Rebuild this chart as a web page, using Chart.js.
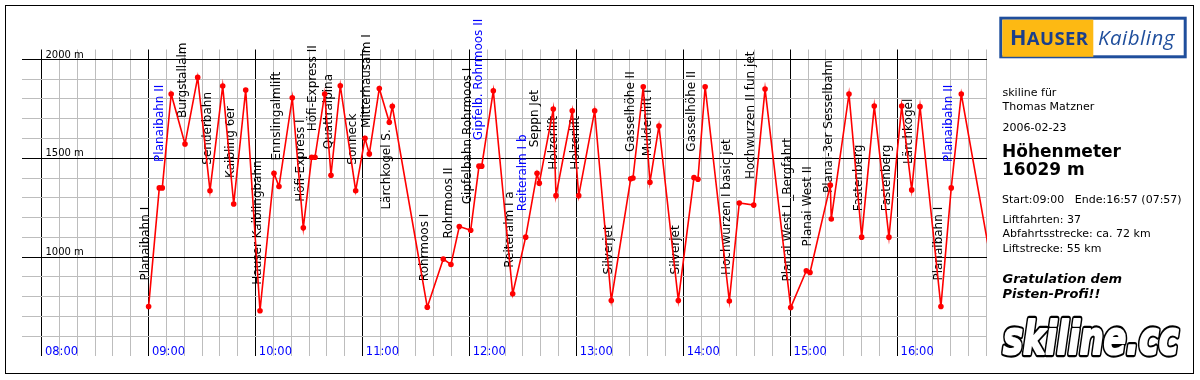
<!DOCTYPE html>
<html>
<head>
<meta charset="utf-8">
<script src="https://cdn.jsdelivr.net/npm/chart.js@4.4.1/dist/chart.umd.min.js"></script>
<style>
  html, body { margin: 0; padding: 0; background: #fff; }
  #wrap { position: relative; width: 1200px; height: 380px; overflow: hidden; }
  #c { position: absolute; left: 0; top: 0; }
  #ov { position: absolute; left: 0; top: 0; pointer-events: none; }
  #ov text { font-family: "DejaVu Sans", sans-serif; }
</style>
</head>
<body>
<div id="wrap">
  <canvas id="c" width="1200" height="380"></canvas>
  <svg id="ov" width="1200" height="380" xmlns="http://www.w3.org/2000/svg">
    <rect x="5.5" y="5.5" width="1188" height="368" fill="none" stroke="#000" stroke-width="1"/>
    <rect x="1000.8" y="18.2" width="184.4" height="38.6" fill="#fff" stroke="#1f4e9c" stroke-width="3"/>
    <rect x="1002.3" y="19.7" width="91" height="37.1" fill="#fdb913"/>
    <text x="1010" y="45" style="font-family:'Open Sans',sans-serif;font-weight:bold" fill="#1b3f8b" letter-spacing="0.4"><tspan font-size="21.5">H</tspan><tspan font-size="18.5">AUSER</tspan></text>
    <text x="1098" y="45" style="font-family:'Open Sans',sans-serif;font-style:italic" font-size="20.5" fill="#1f4e9c" letter-spacing="0.5">Kaibling</text>

    <text x="1002.5" y="95.5" font-size="11">skiline für</text>
    <text x="1002.5" y="110" font-size="11">Thomas Matzner</text>
    <text x="1002.5" y="131" font-size="11">2006-02-23</text>
    <text x="1002" y="157.3" font-size="17" font-weight="bold">Höhenmeter</text>
    <text x="1002" y="175" font-size="17" font-weight="bold">16029 m</text>
    <text x="1002" y="203" font-size="11" xml:space="preserve">Start:09:00   Ende:16:57 (07:57)</text>
    <text x="1002.5" y="223" font-size="11">Liftfahrten: 37</text>
    <text x="1002.5" y="237.3" font-size="11">Abfahrtsstrecke: ca. 72 km</text>
    <text x="1002.5" y="251.7" font-size="11">Liftstrecke: 55 km</text>
    <text x="1002.5" y="282.7" font-size="13" font-weight="bold" font-style="italic">Gratulation dem</text>
    <text x="1002.5" y="297.7" font-size="13" font-weight="bold" font-style="italic">Pisten-Profi!!</text>
    <text transform="translate(1003,354) scale(1,1.38)" font-size="33.5" font-weight="bold" font-style="italic" fill="#000" stroke="#000" stroke-width="4.6" stroke-linejoin="round">skiline.cc</text>
    <text transform="translate(1003,354) scale(1,1.38)" font-size="33.5" font-weight="bold" font-style="italic" fill="#fff" stroke="#fff" stroke-width="1.6" stroke-linejoin="round">skiline.cc</text>
  </svg>
</div>
<script>
// ---- data ----
const times = ['09:00:00','09:06:00','09:07:40','09:12:40','09:20:25','09:27:32','09:34:26','09:41:34','09:47:44','09:54:28',
  '10:02:29','10:10:20','10:13:08','10:20:36','10:26:47','10:31:29','10:33:20','10:38:47','10:42:19','10:47:32',
  '10:56:10','11:01:24','11:03:49','11:09:25','11:15:02','11:16:43','11:36:20','11:45:18','11:49:37','11:54:18',
  '12:00:41','12:05:21','12:06:52','12:13:23','12:24:15','12:31:32','12:37:55','12:39:10','12:47:02','12:48:32',
  '12:57:40','13:01:17','13:10:15','13:19:34','13:30:27','13:31:44','13:37:30','13:41:15','13:46:18','13:57:10',
  '14:05:57','14:08:11','14:12:13','14:25:47','14:31:22','14:39:28','14:45:50','15:00:13','15:08:58','15:11:03',
  '15:22:26','15:22:59','15:32:55','15:40:02','15:47:06','15:55:20','16:02:29','16:08:06','16:12:46','16:24:29',
  '16:30:17','16:35:55','16:57:00'];
const altitudes = [750,1350,1350,1825,1572,1909,1336,1865,1269,1845,
  729,1424,1357,1806,1148,1505,1505,1825,1414,1867,
  1336,1601,1522,1853,1682,1763,747,990,963,1155,
  1136,1460,1460,1841,815,1101,1424,1374,1749,1311,
  1740,1311,1740,781,1396,1400,1862,1379,1663,781,
  1402,1394,1862,778,1274,1263,1850,745,931,922,
  1364,1193,1825,1101,1764,1101,1764,1340,1761,750,
  1350,1825,750];
const liftNames = ['Planaibahn I','Planaibahn II','Burgstallalm','Senderbahn','Kaibling 6er','Hauser Kaiblingbahn',
  'Ennslingalmlift','Höfi-Express I','Höfi-Express II','Quattralpina','Sonneck','Mitterhausalm I','Lärchkogel S.',
  'Rohrmoos I','Rohrmoos II','Gipfelbahn Rohrmoos I','Gipfelb. Rohrmoos II','Reiteralm I a','Reiteralm I b',
  'Seppn Jet','Holzerlift','Holzerlift','Silverjet','Gasselhöhe II','Muldenlift I','Silverjet','Gasselhöhe II',
  'Hochwurzen I basic jet','Hochwurzen II fun jet','Planai West I _Bergfahrt','Planai West II','Planai-3er Sesselbahn',
  'Fastenberg','Fastenberg','Lärchkogel','Planaibahn I','Planaibahn II'];
const liftStartPoint = [0,2,4,6,8,10,12,14,16,18,20,22,24,26,28,30,32,34,35,36,39,41,43,45,47,49,50,53,55,57,59,61,63,65,67,69,70];
const highlightedLifts = [1,16,18,36];
const hourLabels = ['08:00','09:00','10:00','11:00','12:00','13:00','14:00','15:00','16:00'];
const altitudeLabels = [1000,1500,2000];

// ---- helpers ----
const toMin = s => { const p = s.split(':').map(Number); return p[0]*60 + p[1] + (p[2]||0)/60; };
const points = times.map((t, i) => ({ x: toMin(t), y: altitudes[i] }));

const labelPlugin = {
  id: 'skiLabels',
  beforeDatasetsDraw(chart, args, opts) {
    const { ctx } = chart;
    const xs = chart.scales.x, ys = chart.scales.y;
    ctx.save();
    // altitude labels
    ctx.font = '10px "DejaVu Sans"';
    ctx.fillStyle = '#000';
    ctx.textAlign = 'left';
    ctx.textBaseline = 'alphabetic';
    const x0 = xs.getPixelForValue(toMin(hourLabels[0]));
    altitudeLabels.forEach(v => ctx.fillText(v + ' m', x0 + 3.8, ys.getPixelForValue(v) - 1.8));
    // hour labels
    ctx.font = '11.5px "DejaVu Sans"';
    ctx.fillStyle = '#0000ff';
    hourLabels.forEach(h => ctx.fillText(h, xs.getPixelForValue(toMin(h)) + 3.3, ys.bottom - 1));
    // lift names
    ctx.font = '12px "DejaVu Sans"';
    ctx.textBaseline = 'middle';
    liftNames.forEach((name, i) => {
      const p = points[liftStartPoint[i]];
      const px = xs.getPixelForValue(p.x) - 2.5;
      const py = ys.getPixelForValue(p.y);
      const w = ctx.measureText(name).width;
      ctx.fillStyle = highlightedLifts.includes(i) ? '#0000ff' : '#000';
      ctx.save();
      if (opts.below.includes(i)) ctx.translate(px, py + 7 + w);
      else ctx.translate(px, py - 26);
      ctx.rotate(-Math.PI / 2);
      ctx.fillText(name, 0, 0);
      ctx.restore();
    });
    ctx.restore();
  }
};

const gridGray = '#bdbdbd';
new Chart(document.getElementById('c'), {
  type: 'line',
  data: {
    datasets: [{
      data: points,
      borderColor: '#ff0000',
      backgroundColor: '#ff0000',
      borderWidth: 1.6,
      pointRadius: 2.8,
      pointBorderWidth: 0,
      pointBackgroundColor: '#ff0000',
      tension: 0,
      fill: false
    }]
  },
  options: {
    responsive: false,
    animation: false,
    events: [],
    layout: { padding: { left: 22, right: 213, top: 49.5, bottom: 24 } },
    plugins: {
      legend: { display: false },
      tooltip: { enabled: false },
      skiLabels: { below: [12] }
    },
    scales: {
      x: {
        type: 'linear',
        min: 468.97,
        max: 1010.34,
        border: { display: false },
        ticks: { display: false, autoSkip: false },
        grid: {
          drawTicks: false,
          lineWidth: 1,
          color: c => (c.tick && c.tick.value % 60 === 0) ? '#000' : gridGray
        },
        afterBuildTicks: s => {
          const t = [];
          for (let v = 480; v <= 1010; v += 10) t.push({ value: v });
          s.ticks = t;
        }
      },
      y: {
        type: 'linear',
        min: 500,
        max: 2050,
        border: { display: false },
        ticks: { display: false, autoSkip: false },
        grid: {
          drawTicks: false,
          lineWidth: 1,
          color: c => (c.tick && c.tick.value % 500 === 0) ? '#000' : gridGray
        },
        afterBuildTicks: s => {
          const t = [];
          for (let v = 600; v <= 2000; v += 100) t.push({ value: v });
          s.ticks = t;
        }
      }
    }
  },
  plugins: [labelPlugin]
});
</script>
</body>
</html>
